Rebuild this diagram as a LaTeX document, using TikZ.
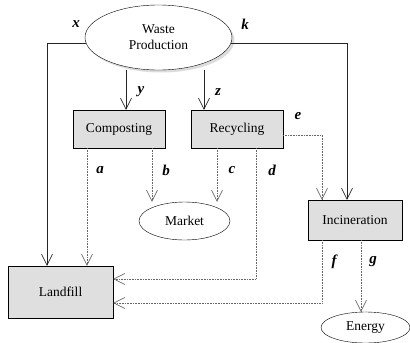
\documentclass[tikz,border=0pt]{standalone}
\usepackage{fontspec}
\setmainfont{Liberation Serif}
\usetikzlibrary{arrows.meta,shapes.geometric,shadows}
\begin{document}
\begin{tikzpicture}[x=1pt,y=-1pt,
  font=\fontsize{13.5}{16}\selectfont,
  boxnode/.style={draw, fill=gray!25, minimum width=#1, inner sep=0pt},
  ovalnode/.style={ellipse, draw, fill=white, inner sep=0pt},
  solidline/.style={draw=black!85, line width=0.7pt},
  dotline/.style={draw=black!60, line width=0.6pt, densely dotted},
  arr/.style={-{Straight Barb[length=11pt,width=11pt,line width=0.6pt]}},
  lab/.style={font=\fontsize{15}{17}\bfseries\itshape\selectfont}]
\useasboundingbox (0,0) rectangle (410,343);
% nodes
\node[ovalnode, minimum width=147pt, minimum height=65pt, align=center,
  drop shadow={shadow xshift=2.5pt, shadow yshift=-2.5pt, fill=gray!55}]
  (wp) at (158.5,37.5) {Waste\\Production};
\node[boxnode=92pt, minimum height=38pt] (comp) at (119,129) {Composting};
\node[boxnode=92pt, minimum height=38pt] (rec) at (237,129) {Recycling};
\node[ovalnode, minimum width=91pt, minimum height=38pt] (mkt) at (184.5,221) {Market};
\node[boxnode=94pt, minimum height=40pt] (inc) at (355,220) {Incineration};
\node[boxnode=105pt, minimum height=52pt] (land) at (60.5,292) {Landfill};
\node[ovalnode, minimum width=89pt, minimum height=31pt] (en) at (365.5,327.5) {Energy};
% helper coordinates
\coordinate (xl) at (47,44);
\coordinate (xr) at (347,44);
\coordinate (ya) at (126,0);
\coordinate (za) at (204,0);
\coordinate (aa) at (87,0);
\coordinate (bb) at (152,0);
\coordinate (cc) at (217,0);
\coordinate (dd) at (256,279);
\coordinate (ee) at (322,135);
\coordinate (ff) at (322,303);
\coordinate (gg) at (361,0);
% solid connectors
\draw[solidline, arr] (wp.185) -| (xl |- land.north);
\draw[solidline, arr] (wp.-5) -| (xr |- inc.north);
\draw[solidline, arr] (ya |- wp.south) -- (ya |- comp.north);
\draw[solidline, arr] (za |- wp.south) -- (za |- rec.north);
% dotted connectors
\draw[dotline, arr] (aa |- comp.south) -- (aa |- land.north);
\draw[dotline, arr] (bb |- comp.south) -- (bb |- mkt.north);
\draw[dotline, arr] (cc |- rec.south) -- (cc |- mkt.north);
\draw[dotline, arr] (dd |- rec.south) -- (dd) -- (dd -| land.east);
\draw[dotline, arr] (rec.east |- ee) -- (ee) -- (ee |- inc.north);
\draw[dotline, arr] (ff |- inc.south) -- (ff) -- (ff -| land.east);
\draw[dotline, arr] (gg |- inc.south) -- (gg |- en.north);
% labels
\node[lab] (lx) at (76,24) {x};
\node[lab] (lk) at (245,24) {k};
\node[lab] (ly) at (141,92) {y};
\node[lab] (lz) at (218,92) {z};
\node[lab] (le) at (298,116) {e};
\node[lab] (la) at (100,170) {a};
\node[lab] (lb) at (166,170) {b};
\node[lab] (lc) at (232,170) {c};
\node[lab] (ld) at (272,170) {d};
\node[lab] (lf) at (334,262) {f};
\node[lab] (lg) at (373,262) {g};
\end{tikzpicture}
\end{document}
